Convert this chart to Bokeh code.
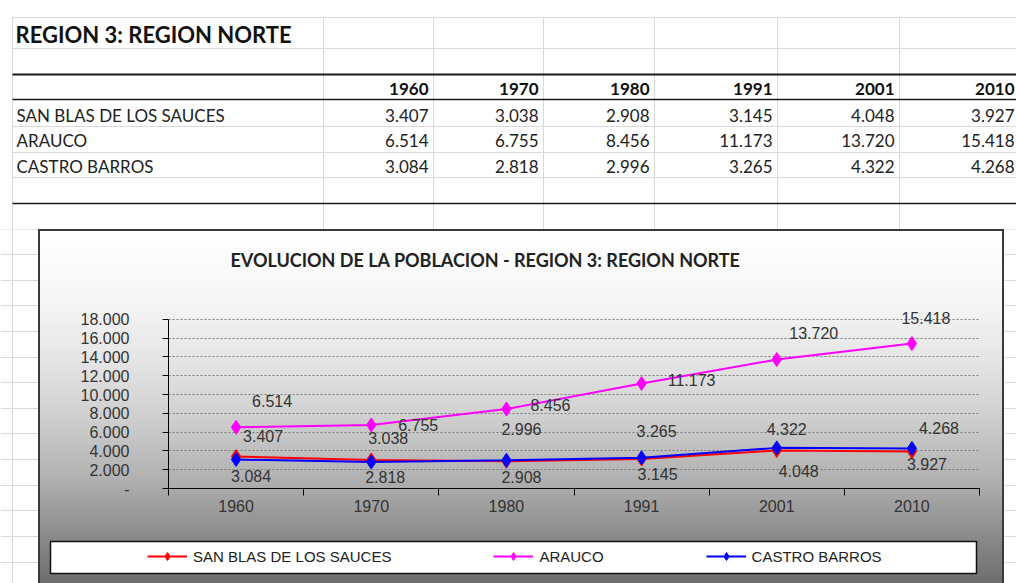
from bokeh.plotting import figure
from bokeh.models import (Range1d, FixedTicker, CustomJSTickFormatter, Legend, LegendItem,
                          ColumnDataSource, LabelSet, Title)
from bokeh.layouts import column, row
from bokeh.embed import file_html
from bokeh.resources import INLINE
from bokeh.core.properties import value

# ---------------- data ----------------
years = ["1960", "1970", "1980", "1991", "2001", "2010"]
names = ["SAN BLAS DE LOS SAUCES", "ARAUCO", "CASTRO BARROS"]
san_blas = [3407, 3038, 2908, 3145, 4048, 3927]
arauco = [6514, 6755, 8456, 11173, 13720, 15418]
castro = [3084, 2818, 2996, 3265, 4322, 4268]
y_ticks = [0, 2000, 4000, 6000, 8000, 10000, 12000, 14000, 16000, 18000]
table_title = "REGION 3: REGION NORTE"
chart_title = "EVOLUCION DE LA POBLACION - REGION 3: REGION NORTE"

series = [san_blas, arauco, castro]
colors = ["#ff0000", "#ff00ff", "#0000ff"]

# label placement (pixels: right, down) for each series' data labels
label_shift = [
    [(27, -20), (17, -22), (15, 16), (16, 15), (22, 21), (15, 12)],
    [(36, -26), (47, 0), (44, -4), (50, -3), (37, -27), (14, -26)],
    [(15, 16), (14, 15), (15, -31), (15, -27), (10, -19), (27, -20)],
]


def fmt(v):
    return f"{v:,}".replace(",", ".")


SHEET_FONT = "Lato"
CHART_FONT = "Liberation Sans"
GRID = "#d9d9d9"
BORDER = "#3a3a3a"
GRADIENT = ("linear-gradient(to bottom, #ffffff 229px, #f6f6f6 300px, #e5e5e5 360px, "
            "#cecece 420px, #b0b0b0 480px, #8e8e8e 530px, #6e6e6e 583px)")

# ---------------- spreadsheet table (pixel layout of the sheet) ----------------
col_edges = [12, 323, 433, 543, 654, 777, 899, 1020]
grid_rows = [17, 48, 126, 152, 177]
rules = [(74, 2.2), (99, 1.6), (203, 1.6)]
lower_rows = [229, 254, 280, 305, 331, 357, 382, 408, 433, 459, 485, 510, 536, 562]

t = figure(width=1016, height=229, x_range=Range1d(0, 1016), y_range=Range1d(229, 0),
           x_axis_type=None, y_axis_type=None, min_border=0, output_backend="svg",
           toolbar_location=None, outline_line_color=None,
           background_fill_color="white", border_fill_color="white")
t.frame_align = False
t.grid.visible = False
n_v = len(col_edges) - 1
t.segment(x0=col_edges[:-1], y0=[17] * n_v, x1=col_edges[:-1], y1=[229] * n_v,
          line_color=GRID, line_width=1)
t.segment(x0=[12] * len(grid_rows), y0=grid_rows, x1=[1016] * len(grid_rows), y1=grid_rows,
          line_color=GRID, line_width=1)
for yy, w in rules:
    t.segment(x0=[12], y0=[yy], x1=[1016], y1=[yy], line_color="#1a1a1a", line_width=w)

t.text(x=[15], y=[34], text=[table_title], text_font=value(SHEET_FONT), text_font_style="bold",
       text_font_size="22px", text_baseline="middle", text_color="#111111")
rights = [c - 5 for c in col_edges[2:-1]] + [1014]
t.text(x=rights, y=[88] * len(years), text=years, text_font=value(SHEET_FONT),
       text_font_style="bold", text_font_size="17px", text_baseline="middle",
       text_align="right", text_color="#111111")
row_y = [114.5, 140, 165.5]
for name, vals, yy in zip(names, series, row_y):
    t.text(x=[16], y=[yy], text=[name], text_font=value(SHEET_FONT), text_font_size="17px",
           text_baseline="middle", text_color="#222222")
    t.text(x=rights, y=[yy] * len(vals), text=[fmt(v) for v in vals],
           text_font=value(SHEET_FONT), text_font_size="17px", text_baseline="middle",
           text_align="right", text_color="#222222")


def spacer(x0, x1, vline=None):
    s = figure(width=x1 - x0, height=354, x_range=Range1d(x0, x1), y_range=Range1d(583, 229),
               x_axis_type=None, y_axis_type=None, min_border=0, output_backend="svg",
               toolbar_location=None, outline_line_color=None,
               background_fill_color="white", border_fill_color="white")
    s.frame_align = False
    s.grid.visible = False
    s.segment(x0=[x0] * len(lower_rows), y0=lower_rows, x1=[x1] * len(lower_rows),
              y1=lower_rows, line_color=GRID, line_width=1)
    if vline is not None:
        s.segment(x0=[vline], y0=[229], x1=[vline], y1=[583], line_color=GRID, line_width=1)
    return s


left_sp = spacer(0, 38, vline=12)
right_sp = spacer(1004, 1016)

# ---------------- chart ----------------
xs = [i + 0.5 for i in range(len(years))]

p = figure(width=966, height=307, x_range=Range1d(0, len(years)), y_range=Range1d(0, 20000),
           output_backend="svg", toolbar_location=None,
           min_border_left=130, min_border_right=25, min_border_top=71, min_border_bottom=48,
           border_fill_color=None, background_fill_color=None, outline_line_color=None)
p.frame_align = False
p.styles = {
    "background": GRADIENT,
    "background-attachment": "fixed",
    "box-shadow": f"inset 2px 2px 0 0 {BORDER}, inset -2px 0 0 0 {BORDER}",
}

p.title.text = chart_title
p.title.text_font = SHEET_FONT
p.title.text_font_style = "bold"
p.title.text_font_size = "18px"
p.title.text_color = "#222222"
p.title.align = "left"
p.title.offset = 62
p.title.standoff = 0
# empty spacer between the title and the plot area
p.add_layout(Title(text=" ", text_font_size="1px", standoff=27), "above")

p.xgrid.visible = False
p.ygrid.grid_line_color = "#7a7a7a"
p.ygrid.grid_line_dash = "2 2"
p.ygrid.grid_line_width = 1

xax = p.xaxis[0]
xax.ticker = FixedTicker(ticks=xs, minor_ticks=list(range(len(years) + 1)))
xax.formatter = CustomJSTickFormatter(args=dict(labels=years),
                                      code="return labels[Math.floor(tick)];")
xax.major_tick_in = 0
xax.major_tick_out = 0
xax.minor_tick_in = 0
xax.minor_tick_out = 7
xax.minor_tick_line_color = "black"
xax.axis_line_color = "black"
xax.major_label_standoff = 4
xax.major_label_text_font = CHART_FONT
xax.major_label_text_font_size = "16px"
xax.major_label_text_color = "#333333"

yax = p.yaxis[0]
yax.ticker = FixedTicker(ticks=y_ticks, minor_ticks=[])
yax.bounds = (y_ticks[0], y_ticks[-1])
yax.formatter = CustomJSTickFormatter(code="return tick == 0 ? '-' : (tick/1000).toFixed(3);")
yax.major_tick_in = 0
yax.major_tick_out = 6
yax.major_tick_line_color = "black"
yax.axis_line_color = "black"
yax.major_label_standoff = 33
yax.major_label_text_font = CHART_FONT
yax.major_label_text_font_size = "16px"
yax.major_label_text_color = "#333333"

sources = []
for name, vals, color, shifts in zip(names, series, colors, label_shift):
    src = ColumnDataSource(dict(
        x=xs, y=vals, label=[fmt(v) for v in vals],
        dx=[s[0] for s in shifts], dy=[-s[1] for s in shifts]))
    sources.append(src)
    p.line("x", "y", source=src, line_color=color, line_width=2)
    p.scatter("x", "y", source=src, marker="diamond", size=14,
              fill_color=color, line_color=color)
    p.add_layout(LabelSet(x="x", y="y", text="label", source=src, x_offset="dx",
                          y_offset="dy", text_align="center", text_baseline="middle",
                          text_font=value(CHART_FONT), text_font_size="16px",
                          text_color="#333333"))

# ---------------- legend strip (bottom part of the chart box) ----------------
lg = figure(width=966, height=47, x_range=Range1d(38, 1004), y_range=Range1d(583, 536),
            x_axis_type=None, y_axis_type=None, min_border=0, output_backend="svg",
            toolbar_location=None, outline_line_color=None,
            border_fill_color=None, background_fill_color=None)
lg.frame_align = False
lg.grid.visible = False
lg.styles = {
    "background": GRADIENT,
    "background-attachment": "fixed",
    "box-shadow": f"inset 2px 0 0 0 {BORDER}, inset -2px 0 0 0 {BORDER}",
}
lg.quad(left=[50], right=[976], top=[541], bottom=[573], fill_color="white",
        line_color="#111111", line_width=1.5)
items = []
for name, color, src in zip(names, colors, sources):
    # legend keys: the series drawn again here (they fall outside this strip's ranges)
    rl = lg.line("x", "y", source=src, line_color=color, line_width=2)
    rm = lg.scatter("x", "y", source=src, marker="diamond", size=9,
                    fill_color=color, line_color=color)
    items.append(LegendItem(label=name, renderers=[rl, rm]))
legend = Legend(items=items, orientation="horizontal", location=(109, 17),
                glyph_width=40, glyph_height=20, label_standoff=6, spacing=102,
                padding=0, margin=0, border_line_color=None, background_fill_alpha=0,
                label_text_font=CHART_FONT, label_text_font_size="15px",
                label_text_color="#222222")
lg.add_layout(legend, "center")

layout = column(t, row(left_sp, column(p, lg), right_sp))

with open("out.html", "w") as f:
    f.write(file_html(layout, INLINE))
